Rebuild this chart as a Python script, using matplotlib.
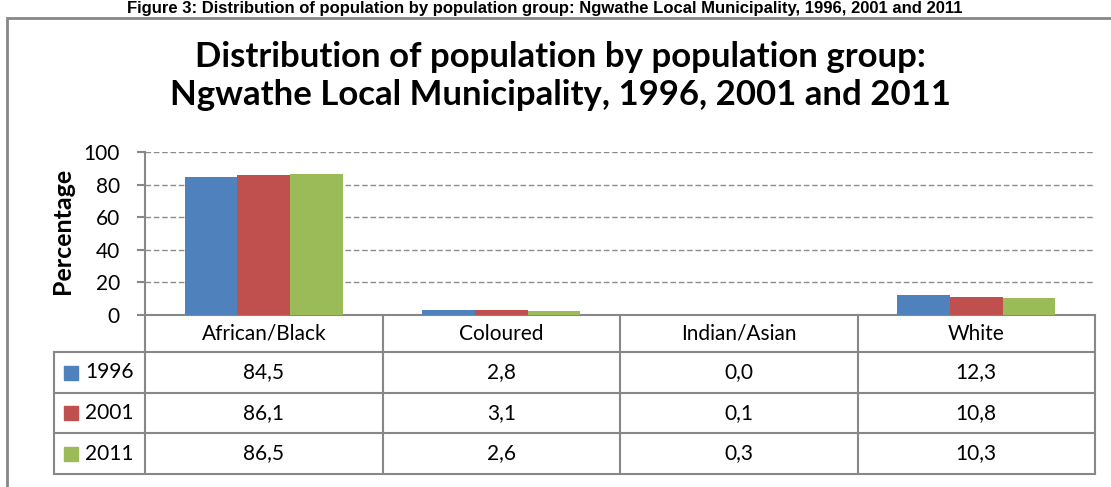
import matplotlib
matplotlib.use("Agg")
import matplotlib.pyplot as plt
from matplotlib.patches import Rectangle
import numpy as np

# chart data
categories = ["African/Black", "Coloured", "Indian/Asian", "White"]
years = ["1996", "2001", "2011"]
values_1996 = [84.5, 2.8, 0.0, 12.3]
values_2001 = [86.1, 3.1, 0.1, 10.8]
values_2011 = [86.5, 2.6, 0.3, 10.3]
series = [values_1996, values_2001, values_2011]
colors = ["#4F81BD", "#C0504D", "#9BBB59"]
y_ticks = [0, 20, 40, 60, 80, 100]

title_lines = ["Distribution of population by population group:",
               "Ngwathe Local Municipality, 1996, 2001 and 2011"]
caption = ("Figure 3: Distribution of population by population group: "
           "Ngwathe Local Municipality, 1996, 2001 and 2011")

W, H = 1111, 487
FONT = "Lato"
GRAY = "#878787"
plt.rcParams["font.family"] = [FONT, "DejaVu Sans"]

fig = plt.figure(figsize=(W / 100, H / 100), dpi=100)


def px_rect(x0, y0, x1, y1):
    # pixel box (top-left origin) -> figure fraction rect
    return [x0 / W, 1 - y1 / H, (x1 - x0) / W, (y1 - y0) / H]


# outer chart frame (runs off the right and bottom edges)
fig.add_artist(Rectangle((7 / W, -0.1), 1.2, 1.1 - 18 / H,
                         transform=fig.transFigure, fill=False,
                         edgecolor=GRAY, lw=2))

# caption line above the frame
fig.text(545 / W, 1 - 13 / H, caption, fontsize=12, fontweight="bold",
         family=["Liberation Sans", "DejaVu Sans"], va="baseline",
         ha="center")

# chart title, one text per line
for line, base in zip(title_lines, [67, 105]):
    fig.text(560 / W, 1 - base / H, line, fontsize=25, fontweight="bold",
             ha="center", va="baseline")

# bar chart
ax = fig.add_axes(px_rect(145, 152, 1095, 315))
n = len(categories)
x = np.arange(n)
bw = 0.222
for i, (vals, c) in enumerate(zip(series, colors)):
    ax.bar(x + (i - 1) * bw, vals, bw, color=c, zorder=3)

ax.set_xlim(-0.5, n - 0.5)
ax.set_ylim(0, 100)
ax.set_yticks(y_ticks)
ax.set_xticks([])
ax.yaxis.grid(True, linestyle=(0, (4, 2)), color="#8c8c8c", lw=1)
ax.tick_params(axis="y", length=6, width=1.5, color=GRAY, pad=12,
               labelsize=15)
for s in ["top", "right"]:
    ax.spines[s].set_visible(False)
for s in ["left", "bottom"]:
    ax.spines[s].set_color(GRAY)
    ax.spines[s].set_linewidth(1.5)

fig.text(63 / W, 1 - 231 / H, "Percentage", rotation=90, fontsize=18,
         fontweight="bold", ha="center", va="center")

# data table under the chart
tax = fig.add_axes(px_rect(54, 315, 1095, 474))
xl = -0.5 - 91 / 237.5
tax.set_xlim(xl, n - 0.5)
rows = [0, 37, 78, 118, 159]
tax.set_ylim(rows[-1], 0)
tax.axis("off")

for y in rows[1:]:
    tax.plot([xl, n - 0.5], [y, y], color=GRAY, lw=1.5, clip_on=False)
tax.plot([xl, xl], [rows[1], rows[-1]], color=GRAY, lw=1.5, clip_on=False)
for xv in np.arange(n + 1) - 0.5:
    tax.plot([xv, xv], [0, rows[-1]], color=GRAY, lw=1.5, clip_on=False)

for j, cat in enumerate(categories):
    tax.text(j, (rows[0] + rows[1]) / 2, cat, fontsize=15,
             ha="center", va="center")

for i, (yr, vals, c) in enumerate(zip(years, series, colors)):
    yc = (rows[i + 1] + rows[i + 2]) / 2
    tax.plot(xl + 17 / 237.5, yc, marker="s", ms=10.5, color=c,
             clip_on=False)
    tax.text(xl + 31 / 237.5, yc, yr, fontsize=15, ha="left", va="center")
    for j, v in enumerate(vals):
        tax.text(j, yc, f"{v:.1f}".replace(".", ","), fontsize=15,
                 ha="center", va="center")

fig.savefig("out.png", dpi=100)
